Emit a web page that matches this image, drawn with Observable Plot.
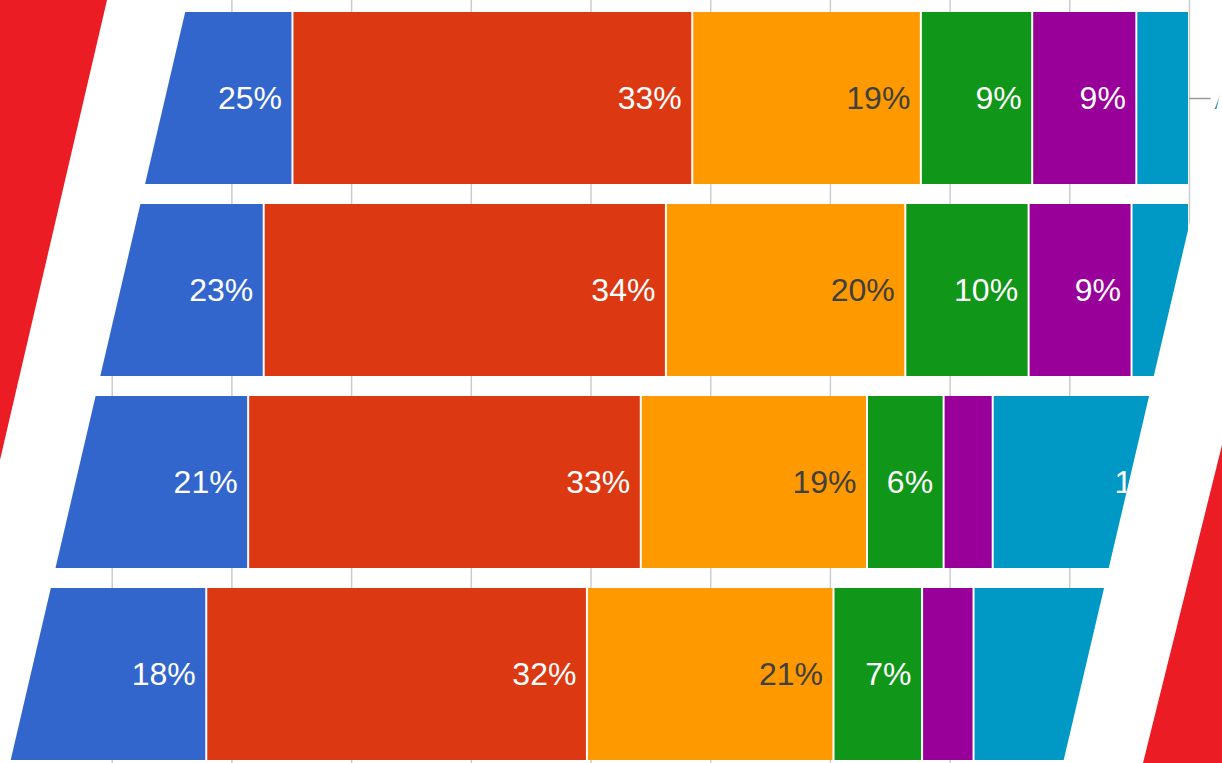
<!DOCTYPE html>
<html>
<head>
<meta charset="utf-8">
<script src="https://cdn.jsdelivr.net/npm/d3@7"></script>
<script src="https://cdn.jsdelivr.net/npm/@observablehq/plot@0.6"></script>
<style>
  html, body { margin: 0; padding: 0; background: #ffffff; overflow: hidden; }
  #stage { position: relative; width: 1222px; height: 763px; overflow: hidden; background: #ffffff; }
  #chart { position: absolute; left: 0; top: 0; width: 1222px; height: 763px;
           clip-path: polygon(188px 0px, 1242px 0px, 1063px 763px, 10px 763px); }
  .stripe { position: absolute; left: 0; top: 0; width: 1222px; height: 763px; background: #ec1c24; }
  #stripeLeft { clip-path: polygon(0px 0px, 107px 0px, 0px 460px); }
  #stripeRight { clip-path: polygon(1222px 445px, 1222px 763px, 1143px 763px); }
</style>
</head>
<body>
<div id="stage">
  <div id="chart"></div>
  <div id="stripeLeft" class="stripe"></div>
  <div id="stripeRight" class="stripe"></div>
</div>
<script>
// ---- data (100% stacked shares) ----
const rows = ["Row 1", "Row 2", "Row 3", "Row 4"];
const series = ["Series 1", "Series 2", "Series 3", "Series 4", "Series 5", "Series 6"];
const colors = ["#3366cc", "#dc3912", "#ff9900", "#109618", "#990099", "#0099c6"];
const row1 = [25.1, 33.4, 19.1, 9.3, 8.7, 4.4];
const row2 = [22.7, 33.6, 20.0, 10.3, 8.6, 4.8];
const row3 = [21.4, 32.8, 18.9, 6.4, 4.1, 16.4];
const row4 = [17.9, 31.8, 20.6, 7.4, 4.3, 18.0];
const rowValues = [row1, row2, row3, row4];
const gridTicks = [0, 10, 20, 30, 40, 50, 60, 70, 80, 90, 100];
const legendRow = rows[0];
const legendText = "A";
const darkLabelSeries = ["Series 3"];
const minLabelValue = 5.5;

const data = [];
rows.forEach((r, i) => {
  series.forEach((s, j) => data.push({row: r, series: s, value: rowValues[i][j]}));
});

const label = d => d.value >= minLabelValue ? Math.round(d.value) + "%" : "";

const chart = Plot.plot({
  width: 1222,
  height: 763,
  marginTop: 0, marginRight: 0, marginBottom: 0, marginLeft: 0,
  style: {fontFamily: "'Liberation Sans', Arial, sans-serif", background: "#ffffff", overflow: "visible"},
  x: {domain: [0, 100], range: [-8, 1189], axis: null},
  y: {domain: rows, range: [2, 770], paddingInner: 0.104, paddingOuter: 0.052, axis: null},
  color: {domain: series, range: colors},
  marks: [
    Plot.ruleX(gridTicks, {x: d => d, stroke: "#cccccc", strokeWidth: 1.5}),
    Plot.barX(data, Plot.stackX({x: "value", y: "row", fill: "series", insetLeft: 1, insetRight: 1})),
    Plot.text(data, Plot.stackX2({
      x: "value", y: "row", z: "series",
      text: d => darkLabelSeries.includes(d.series) ? "" : label(d),
      fill: "#ffffff", fontSize: 32, textAnchor: "end", dx: -11
    })),
    Plot.text(data, Plot.stackX2({
      x: "value", y: "row", z: "series",
      text: d => darkLabelSeries.includes(d.series) ? label(d) : "",
      fill: "#404040", fontSize: 32, textAnchor: "end", dx: -11
    })),
    Plot.ruleY([legendRow], {y: d => d, x1: 100, x2: 101.8, stroke: "#9a9a9a", strokeWidth: 1.5}),
    Plot.text([legendRow], {y: d => d, x: 100, text: () => legendText, dx: 25, dy: 2,
      textAnchor: "start", fill: colors[5], fontSize: 25})
  ]
});
document.getElementById("chart").appendChild(chart);
</script>
</body>
</html>
